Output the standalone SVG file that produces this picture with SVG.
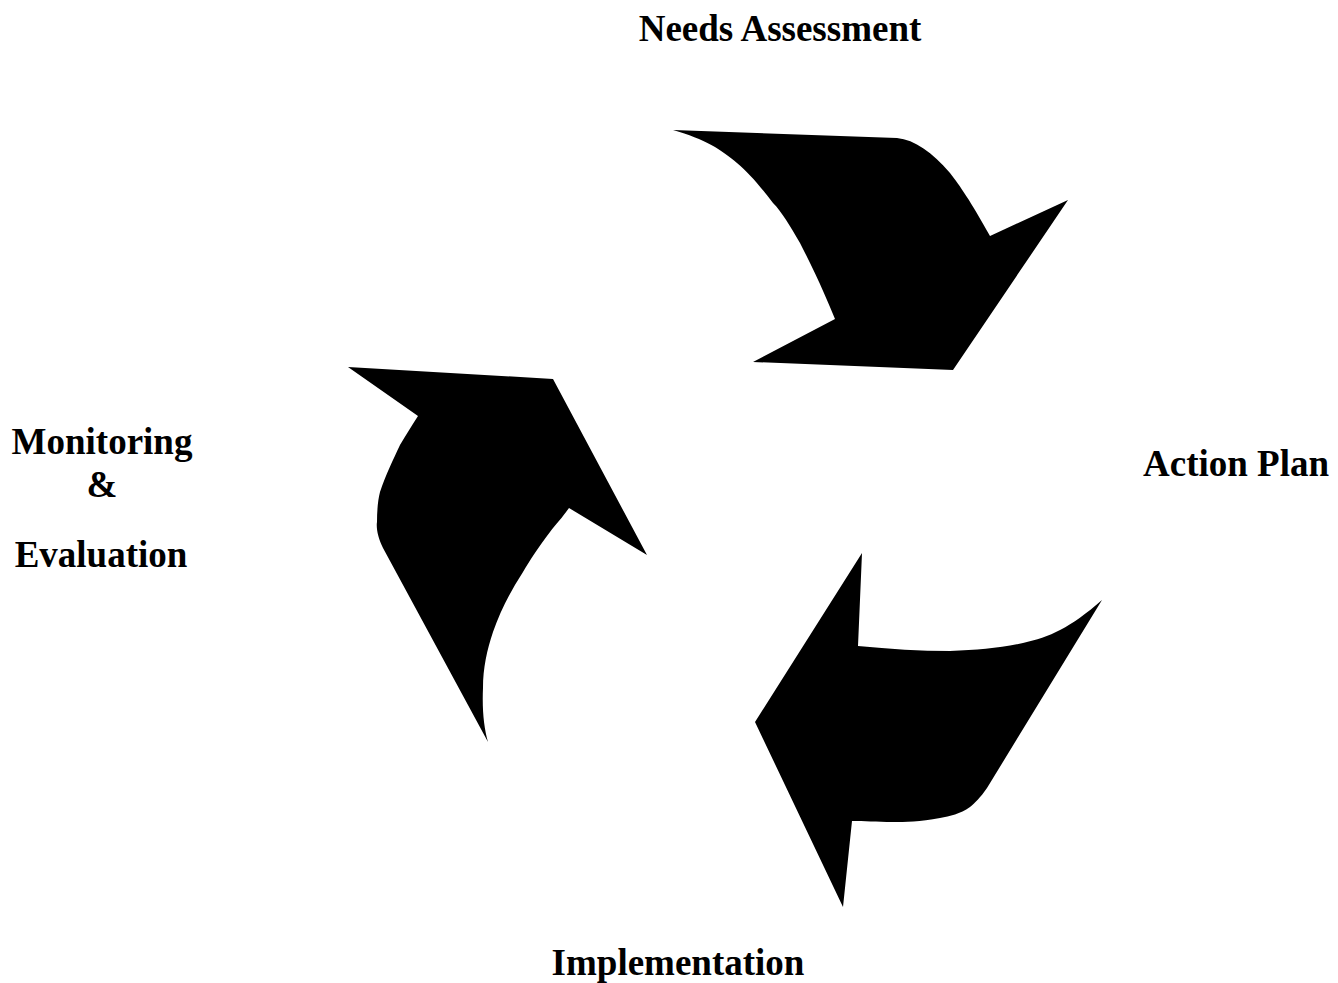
<svg xmlns="http://www.w3.org/2000/svg" width="1338" height="983" viewBox="0 0 1338 983">
<style>
.lbl{font-family:"Liberation Serif","Times New Roman",serif;font-weight:bold;font-size:37px;fill:#000}
.arrow{fill:#000;stroke:none}
</style>
<rect width="1338" height="983" fill="#fff"/>
<g id="connectors">
<path id="arrow-top" class="arrow" d="M673,130 L897,138 C915,140 932,152 950,173 C960,186 970,200 990,236 L1068,200 L953,370 L753,362 L835,319 C828,302 818,278 800,243 C790,226 782,212 773,203 C760,186 748,172 737,163 C722,150 705,139 673,130 Z"/>
<path id="arrow-left" class="arrow" d="M348,367 L553,379 L647,555 L569,508 C562,518 556,524 550,532 C538,548 530,560 523,572 C510,592 500,612 493,632 C487,650 483,668 483,688 C482,710 484,728 488,742 L383,548 C378,538 376,528 377,522 C377,510 378,500 380,492 C386,474 393,460 400,445 C406,435 412,425 418,416 Z"/>
<path id="arrow-bottom" class="arrow" d="M862,553 L858,646 C890,649 920,651 950,651 C978,650 1000,648 1023,643 C1050,637 1070,628 1102,600 L987,788 C980,798 975,803 970,807 C960,814 950,816 940,818 C920,822 905,822 893,822 C876,822 864,821 852,821 L843,907 L755,722 Z"/>
</g>
<g id="node-needs"><text class="lbl" x="780" y="41" text-anchor="middle">Needs Assessment</text></g>
<g id="node-action"><text class="lbl" x="1143" y="476">Action Plan</text></g>
<g id="node-impl"><text class="lbl" x="678" y="975" text-anchor="middle">Implementation</text></g>
<g id="node-monitor">
<text class="lbl" x="102" y="454" text-anchor="middle">Monitoring</text>
<text class="lbl" x="102" y="497" text-anchor="middle">&amp;</text>
<text class="lbl" x="101" y="567" text-anchor="middle">Evaluation</text>
</g>
</svg>
